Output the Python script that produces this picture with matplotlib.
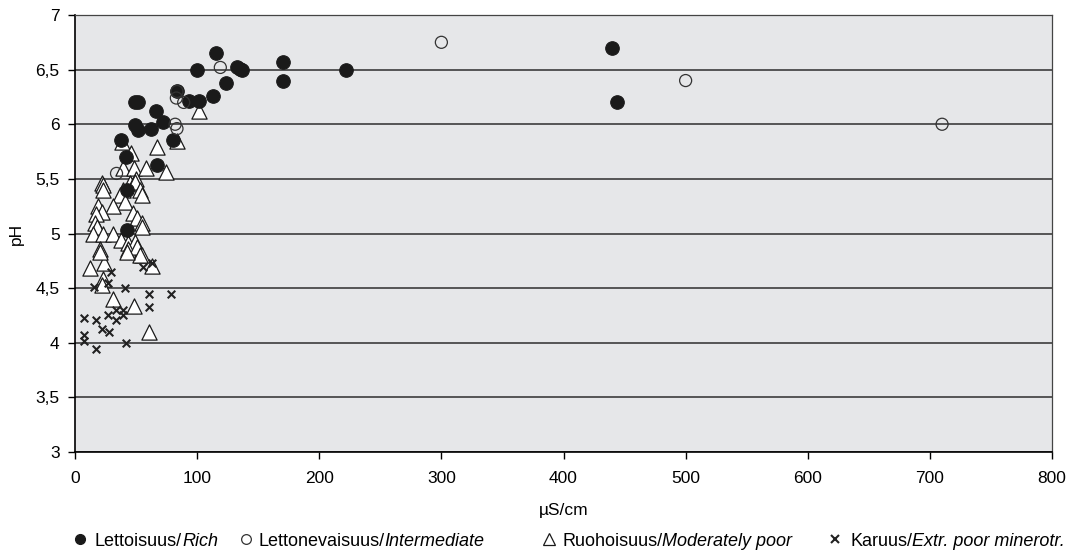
import matplotlib
matplotlib.use("Agg")
import matplotlib.pyplot as plt
from matplotlib.ticker import FuncFormatter
from matplotlib.lines import Line2D

plt.rcParams['font.family'] = ['Liberation Sans', 'DejaVu Sans']

# Rich fens (filled circles)
rich_x = [115.5, 100, 133, 135, 137, 170, 170, 222, 440, 444, 124, 113, 101.5, 93, 83.5,
          49, 51.6, 66, 72, 49, 51.6, 62, 80, 37.7, 41.8, 67, 42.5, 42.5]
rich_y = [6.65, 6.5, 6.52, 6.51, 6.5, 6.57, 6.4, 6.5, 6.7, 6.2, 6.38, 6.26, 6.21, 6.21, 6.3,
          6.2, 6.2, 6.12, 6.02, 5.99, 5.95, 5.96, 5.86, 5.86, 5.7, 5.63, 5.4, 5.03]

# Intermediate fens (open circles)
inter_x = [300, 500, 710, 119, 83.5, 83, 89, 82, 83.5, 34]
inter_y = [6.75, 6.4, 6.0, 6.52, 6.3, 6.24, 6.2, 6.0, 5.96, 5.55]

# Moderately poor fens (triangles)
mod_x = [101.5, 38.5, 83.5, 67, 45.8, 39, 48, 58, 74.5, 22, 45, 50,
         22.9, 22.9, 49, 39, 53, 37, 55, 41, 31, 19, 22, 17, 47.5, 51, 16, 55,
         18, 55, 15, 23, 31, 38, 43, 49, 43, 51, 20.5, 55,
         12.3, 24, 23, 22, 31, 48, 61, 63, 53, 42.5, 20.5]
mod_y = [6.12, 5.84, 5.85, 5.79, 5.74, 5.6, 5.6, 5.6, 5.56, 5.46, 5.46, 5.5,
         5.44, 5.4, 5.47, 5.4, 5.4, 5.35, 5.35, 5.29, 5.25, 5.25, 5.2, 5.18, 5.19, 5.14, 5.1, 5.1,
         5.06, 5.06, 5.0, 5.0, 5.0, 4.94, 4.91, 4.92, 4.86, 4.88, 4.86, 4.8,
         4.68, 4.73, 4.58, 4.53, 4.4, 4.34, 4.1, 4.7, 4.8, 4.83, 4.83]

# Extremely poor minerotrophic fens (crosses)
poor_x = [29.5, 55.6, 63, 27, 15.5, 41, 60.6, 60.6, 7.4, 17, 27, 33.6, 39, 39, 33.6,
          22, 28, 7.4, 7.4, 41.6, 17, 78.6]
poor_y = [4.65, 4.69, 4.73, 4.55, 4.51, 4.5, 4.45, 4.33, 4.23, 4.21, 4.25, 4.3, 4.3, 4.25, 4.21,
          4.13, 4.1, 4.07, 4.02, 4.0, 3.94, 4.45]

label_regular = ['Lettoisuus/', 'Lettonevaisuus/', 'Ruohoisuus/', 'Karuus/']
label_italic = ['Rich', 'Intermediate', 'Moderately poor', 'Extr. poor minerotr.']

W, H = 1078, 552
fig = plt.figure(figsize=(W / 100, H / 100), dpi=100)
ax = fig.add_axes([75 / W, 1 - 452 / H, 977 / W, 437 / H])
ax.set_facecolor('#e6e7e9')

ax.scatter(rich_x, rich_y, s=95, c='#1a1a1a', edgecolors='#1a1a1a', linewidths=0.8, zorder=3)
ax.scatter(inter_x, inter_y, s=75, facecolors='none', edgecolors='#333333', linewidths=0.9,
           zorder=3)
ax.scatter(mod_x, mod_y, s=120, marker='^', facecolors='white', edgecolors='#1a1a1a',
           linewidths=0.9, zorder=2)
ax.scatter(poor_x, poor_y, s=30, marker='x', c='#222222', linewidths=1.5, zorder=2)

ax.set_xlim(0, 800)
ax.set_ylim(3, 7)
ax.set_xticks(range(0, 801, 100))
ax.set_yticks([3 + 0.5 * i for i in range(9)])
ax.yaxis.set_major_formatter(FuncFormatter(lambda v, p: ('%g' % v).replace('.', ',')))
ax.grid(axis='y', color='#555555', linewidth=1.4, zorder=1)
ax.set_axisbelow(True)
for side in ['left', 'bottom']:
    ax.spines[side].set_color('black')
    ax.spines[side].set_linewidth(1.2)
for side in ['top', 'right']:
    ax.spines[side].set_color('#444444')
    ax.spines[side].set_linewidth(0.9)
ax.tick_params(direction='out', length=5, width=1, labelsize=12.5, colors='black')
ax.tick_params(axis='x', pad=9)
ax.tick_params(axis='y', pad=6)
ax.set_xlabel('µS/cm', fontsize=12.5, labelpad=12)
ax.set_ylabel('pH', fontsize=12.5, labelpad=8)

# Legend drawn manually at reference positions
ly = 1 - 540 / H
marker_specs = [
    dict(marker='o', markersize=7, markerfacecolor='#1a1a1a', markeredgecolor='#1a1a1a'),
    dict(marker='o', markersize=7, markerfacecolor='none', markeredgecolor='#333333',
         markeredgewidth=0.9),
    dict(marker='^', markersize=8, markerfacecolor='white', markeredgecolor='#1a1a1a',
         markeredgewidth=0.9),
    dict(marker='x', markersize=5.5, markeredgecolor='#222222', markeredgewidth=1.5),
]
marker_px = [80, 246, 549, 835]
text_px = [95, 258, 562, 850]
renderer = fig.canvas.get_renderer()
for spec, mx, tx, reg, it in zip(marker_specs, marker_px, text_px, label_regular, label_italic):
    fig.add_artist(Line2D([mx / W], [ly + 0.001], transform=fig.transFigure, linestyle='none',
                          **spec))
    t = fig.text(tx / W, ly, reg, fontsize=13, va='center_baseline', ha='left')
    bb = t.get_window_extent(renderer=renderer)
    fig.text(bb.x1 / W, ly, it, fontsize=13, style='italic', va='center_baseline', ha='left')

fig.savefig('out.png', dpi=100)
